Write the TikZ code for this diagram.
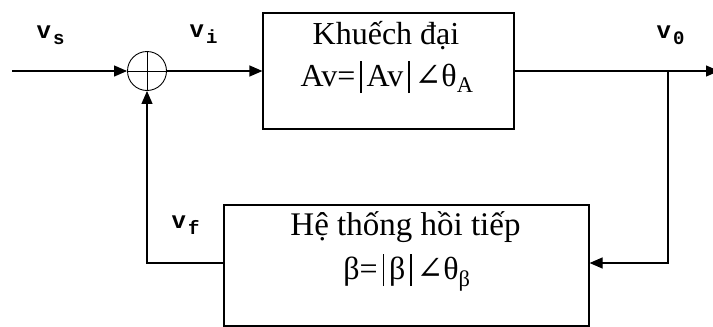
\documentclass[tikz,border=0pt]{standalone}
\usepackage{fontspec}
\setmainfont{Liberation Serif}
\newfontfamily\monofont{Liberation Mono}
\newfontfamily\symfont{DejaVu Serif}
\usetikzlibrary{arrows.meta, positioning, calc}

% signal name: monospaced v with a lowered index
\newcommand{\sig}[1]{{\monofont\bfseries\fontsize{24}{24}\selectfont v\hspace{2pt}\raisebox{-6pt}{\fontsize{19}{19}\selectfont #1}}}
\newcommand{\angsym}{{\symfont ∠}}
\newcommand{\magbar}{\kern5pt\rule[-7pt]{1.3pt}{32pt}\kern5pt}

\begin{document}
\begin{tikzpicture}[
    x=1pt, y=-1pt,
    >={Triangle[length=13pt, width=11pt]},
    line width=1.2pt,
    blk/.style={draw, rectangle, inner sep=0pt, line width=1.2pt},
    sumnode/.style={draw, circle, minimum size=39pt, inner sep=0pt, line width=0.9pt},
    txt/.style={anchor=base, inner sep=0pt, font=\fontsize{32}{36}\selectfont},
    lbl/.style={anchor=base west, inner sep=0pt},
    arr/.style={->},
]
\useasboundingbox (0,0) rectangle (713,327);

% blocks
\node[blk, minimum width=251pt, minimum height=116pt] (amp) at (388.5,71) {};
\node[blk, minimum width=365pt, minimum height=121pt] (fb) at (406.5,265.5) {};
\node[sumnode] (sum) at (147,71) {};
\draw[line width=0.9pt] (sum.north) -- (sum.south);
\draw[line width=0.9pt] (sum.west) -- (sum.east);

% block texts
\node[txt] (amptop) at (386,44) {Khuếch đại};
\node[txt] (ampbot) at (387,86) {Av=\magbar Av\magbar\angsym θ\textsubscript{A}};
\node[txt, font=\fontsize{33}{36}\selectfont] (fbtop) at (405.5,235) {Hệ thống hồi tiếp};
\node[txt] (fbbot) at (407,279) {β=\magbar β\magbar\angsym θ\textsubscript{β}};

% free ends
\coordinate (in) at (12,71);
\coordinate (out) at (719,71);
\coordinate (br) at (668,71);

% connectors
\draw[arr] (in) -- (sum.west);
\draw[arr] (sum.east) -- (amp.west);
\draw[arr] (amp.east) -- (out);
\draw[arr] (br) |- ([yshift=2.5pt]fb.east);
\draw[arr] ([yshift=2.5pt]fb.west) -| (sum.south);

% signal labels
\node[lbl] (vs) at (36,38) {\sig{s}};
\node[lbl] (vi) at (189,37) {\sig{i}};
\node[lbl] (vo) at (656,38) {\sig{0}};
\node[lbl] (vf) at (171,228) {\sig{f}};
\end{tikzpicture}
\end{document}
